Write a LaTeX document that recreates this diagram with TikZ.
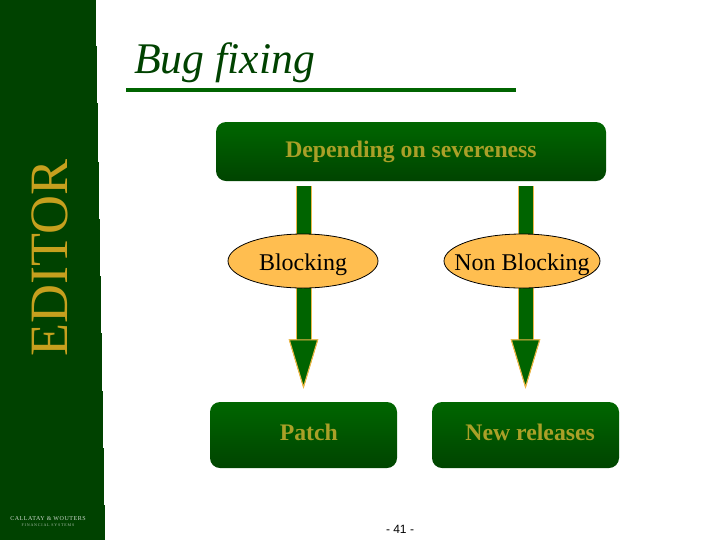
\documentclass[tikz,border=0pt]{standalone}
\usepackage{fontspec}
\setmainfont{Liberation Serif}
\setsansfont{Liberation Sans}
\usetikzlibrary{arrows.meta, backgrounds, positioning, shapes.geometric}

\definecolor{sidegreen}{RGB}{0,66,0}
\definecolor{titlegreen}{RGB}{0,100,0}
\definecolor{boxtop}{RGB}{0,102,0}
\definecolor{boxbottom}{RGB}{0,68,0}
\definecolor{olive}{RGB}{170,160,40}
\definecolor{gold}{RGB}{198,160,30}
\definecolor{amber}{RGB}{255,190,80}

\begin{document}
\begin{tikzpicture}[x=0.75pt, y=-0.75pt,
    box node/.style={rectangle, rounded corners=7.5pt, top color=boxtop, bottom color=boxbottom,
        text=olive, font=\bfseries\fontsize{17.8}{20}\selectfont, inner sep=0pt,
        text height=8.5pt, text depth=0pt},
    choice node/.style={ellipse, draw=black, line width=0.6pt, fill=amber,
        inner xsep=-30pt, inner ysep=-5pt, minimum width=112.5pt, minimum height=40.5pt,
        font=\fontsize{18}{22}\selectfont, text height=13.5pt, text depth=0pt},
    block arrow/.style={draw=titlegreen, line width=10.5pt,
        -{Triangle[length=37pt, width=22pt, line width=0.75pt, color=amber!80!olive, fill=titlegreen]},
        preaction={draw=amber!80!olive, line width=12pt},
        shorten <=3.75pt, shorten >=9.75pt}]

    \useasboundingbox (0,0) rectangle (720,540);

    % Side band
    \foreach \w/\y in {96/0, 97/46, 98/103, 99/162, 100/219, 101/276, 102/333, 103/391, 104/448, 105/505}
        \fill[sidegreen] (0,\y) rectangle (\w,540);
    \node[text=gold, rotate=90, font=\fontsize{40.5}{44}\selectfont, inner sep=0pt] (side) at (50,258) {EDITOR};
    \node[text=white!80!sidegreen, font=\addfontfeature{LetterSpace=9}\fontsize{4.5}{5}\selectfont, inner sep=0pt] (logo) at (48,519) {CALLATAY \& WOUTERS};
    \node[text=white!65!sidegreen, font=\addfontfeature{LetterSpace=20}\fontsize{3}{4}\selectfont, inner sep=0pt, below=2pt of logo] (sublogo) {FINANCIAL SYSTEMS};

    % Title
    \node[text=sidegreen, anchor=base west, inner sep=0pt, font=\itshape\fontsize{32.8}{38}\selectfont] (title) at (134,73.5) {Bug fixing};
    \coordinate (ruleL) at (126,90);
    \coordinate (ruleR) at (516,90);
    \draw[titlegreen, line width=3pt] (ruleL) -- (ruleR);

    % Boxes
    \node[box node, minimum width=292.5pt, minimum height=44.25pt] (depend) at (411,151.5) {Depending on severeness};
    \node[choice node] (blocking) at (303,261) {Blocking};
    \node[choice node, minimum width=117pt] (nonblocking) at (522,261) {Non Blocking};
    \node[box node, minimum width=140.25pt, minimum height=49.5pt] (patch) at (303.5,435) {\hspace{8pt}Patch};
    \node[box node, minimum width=140.25pt, minimum height=49.5pt] (release) at (525.5,435) {\hspace{7pt}New releases};

    % Arrows, behind the ellipses
    \coordinate (startL) at (depend.south -| patch.north);
    \coordinate (startR) at (depend.south -| release.north);
    \begin{scope}[on background layer]
        \draw[block arrow] (startL) -- (patch.north);
        \draw[block arrow] (startR) -- (release.north);
    \end{scope}

    % Page number
    \node[font=\sffamily\fontsize{9}{11}\selectfont, inner sep=0pt] (page) at (400,529) {- 41 -};
\end{tikzpicture}
\end{document}
